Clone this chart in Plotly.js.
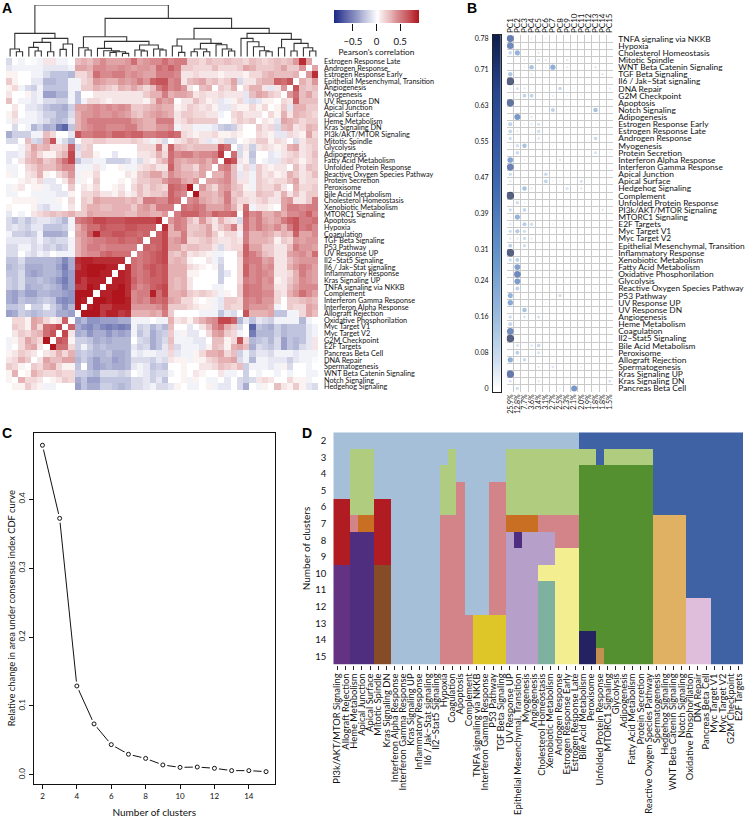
<!DOCTYPE html>
<html><head><meta charset="utf-8">
<script src="https://cdn.plot.ly/plotly-3.0.1.min.js"></script>
<style>html,body{margin:0;padding:0;background:#fff}</style></head>
<body><div id="chart" style="width:745px;height:818px"></div>
<script>
// ---------- Panel A data ----------
const rowsA = ["Estrogen Response Late","Androgen Response","Estrogen Response Early","Epithelial Mesenchymal, Transition","Angiogenesis","Myogenesis","UV Response DN","Apical Junction","Apical Surface","Heme Metabolism","Kras Signaling DN","PI3k/AKT/MTOR Signaling","Mitotic Spindle","Glycolysis","Adipogenesis","Fatty Acid Metabolism","Unfolded Protein Response","Reactive Oxygen Species Pathway","Protein Secretion","Peroxisome","Bile Acid Metabolism","Cholesterol Homeostasis","Xenobiotic Metabolism","MTORC1 Signaling","Apoptosis","Hypoxia","Coagulation","TGF Beta Signaling","P53 Pathway","UV Response UP","Il2−Stat5 Signaling","Il6 / Jak−Stat signaling","Inflammatory Response","Kras Signaling UP","TNFA signaling via NKKB","Complement","Interferon Gamma Response","Interferon Alpha Response","Allograft Rejection","Oxidative Phosphorilation","Myc Target V1","Myc Target V2","G2M Checkpoint","E2F Targets","Pancreas Beta Cell","DNA Repair","Spermatogenesis","WNT Beta Catenin Signaling","Notch Signaling","Hedgehog Signaling"];
// Pearson correlation x100, one side of the symmetric matrix (columns run in reverse row order)
const corrUpper = [
[-15,0,-5,0,-2,-5,10,10,-5,-5,0,25,30,25,35,45,35,35,35,40,55,35,40,45,45,55,45,50,50,20,20,15,25,20,20,25,20,20,15,25,20,15,20,25,20,25,40,80,35],
[-10,-5,-5,-5,-5,-5,-10,-10,-10,-10,-5,35,35,30,45,45,40,40,45,40,35,40,40,35,55,50,60,50,20,20,15,15,15,25,15,15,15,20,35,30,20,20,20,25,35,20,20,40],
[5,5,0,0,-5,-5,-15,-25,-25,-25,-30,15,15,25,55,45,45,50,50,40,45,40,35,35,50,50,50,45,10,10,15,10,10,10,5,10,10,10,5,15,15,25,30,25,25,25,30],
[20,5,0,0,-10,-10,-30,-30,-25,-25,-5,-5,15,20,40,35,30,30,40,35,40,50,40,60,65,65,45,50,10,25,30,35,20,25,15,20,35,-15,10,10,25,30,30,60,55,65],
[5,15,-5,-15,-20,-5,-25,-25,-25,-25,-5,-5,20,20,30,25,20,15,30,25,35,25,15,25,50,60,45,50,40,10,0,25,30,0,20,15,30,0,15,30,30,10,-10,10,40],
[10,0,0,5,-10,-5,-40,-40,-30,-30,-5,-25,0,0,10,10,10,10,10,10,10,10,20,30,30,50,30,35,35,30,10,15,10,10,15,10,10,10,-10,25,35,30,20,15],
[25,0,-5,-5,-10,-5,-15,-15,-20,-20,-5,-25,-5,15,15,10,5,10,10,10,10,10,5,20,45,35,40,0,10,10,25,15,5,10,-10,-5,5,15,-10,-15,-10,5,5],
[0,10,0,-10,-10,-15,-25,-30,-30,-35,-20,35,35,40,45,40,45,40,45,40,20,20,25,30,35,30,30,5,10,20,15,10,15,5,-10,-10,10,5,5,15,5,15],
[5,15,0,-5,-5,-10,-20,-20,-30,-30,-15,30,40,40,45,40,40,45,40,35,25,20,30,35,40,35,30,10,20,20,15,15,10,10,-5,0,15,20,10,10,10],
[-5,10,-5,-5,-5,-10,-15,-25,-30,-25,-10,30,40,50,50,50,50,50,50,50,40,35,30,30,50,50,50,10,15,25,20,20,20,20,0,0,10,20,15,20],
[0,-15,0,-5,-30,-20,-35,-30,-55,-65,-25,30,40,45,50,50,45,45,45,50,50,35,30,30,40,40,45,-5,10,10,-5,-5,-5,-10,-20,-25,-20,10,0],
[-35,-20,-20,-20,-5,-5,25,15,0,0,-10,65,50,50,55,55,50,60,60,55,60,60,50,50,55,55,60,55,15,10,5,10,10,15,5,5,10,5],
[-15,-15,0,25,-15,-20,35,65,-5,-15,-30,0,15,15,20,20,15,15,15,15,20,15,10,-5,10,-15,0,10,15,25,20,10,-10,-5,10,-15,-15],
[0,0,-5,15,35,25,30,15,15,20,60,-15,15,20,0,0,0,0,0,0,0,15,15,15,50,10,60,30,25,20,25,25,25,25,65,55],
[-10,-10,-5,20,30,15,5,5,20,30,70,-10,20,20,5,0,0,-10,0,0,0,10,10,15,30,15,55,45,50,50,40,45,45,50,75],
[-10,0,10,25,30,35,20,25,40,55,70,-25,-10,-10,-5,-5,-20,-20,-20,-15,-5,-15,10,5,20,30,55,35,30,35,35,40,30,45],
[-5,-5,0,15,20,30,25,25,35,45,45,-5,-5,-5,10,-5,0,0,5,-5,-5,10,15,20,10,10,60,35,25,25,15,35,30],
[5,-5,0,10,15,30,5,0,15,25,40,-5,5,5,15,0,0,0,0,10,5,20,25,35,35,20,45,35,30,30,25,35],
[0,0,5,10,5,15,-10,-10,0,10,30,-5,5,0,20,0,0,0,5,0,10,20,20,25,25,40,50,50,35,30,40],
[-5,5,10,0,5,5,-5,-10,-10,0,20,0,10,5,15,0,0,5,10,0,15,25,15,25,20,15,60,55,50,90],
[-5,-5,0,0,-5,-5,-5,-5,-10,-10,5,0,15,15,20,10,10,5,15,5,10,25,15,20,20,25,60,50,45],
[0,5,5,5,5,-5,-5,-5,5,0,15,0,20,15,35,30,30,30,30,25,30,20,50,50,45,45,60,55],
[5,0,0,0,5,-10,-15,-5,-5,0,10,0,20,30,30,25,25,30,30,30,20,35,40,30,50,50,50],
[-10,0,-5,0,10,15,20,25,20,25,30,20,20,35,30,30,30,30,30,25,25,35,35,30,30,40],
[-15,-25,-15,-25,-15,-10,-10,-15,-20,-30,-5,50,55,60,70,70,65,65,65,70,70,70,70,70,80],
[-15,-10,-15,-20,-10,-10,-25,-25,-25,-20,-5,30,45,55,55,65,60,60,60,65,65,60,60,60],
[-5,-20,-20,-25,-20,-5,-35,-35,-35,-30,0,35,40,60,85,60,60,65,65,60,60,55,60],
[-10,-10,-10,-10,-15,-5,-15,-20,-15,-15,-5,30,40,45,50,50,55,55,60,55,55,60],
[-15,-15,-5,-5,-15,-10,-20,-15,-25,-20,-5,30,40,50,50,45,50,50,50,50,50],
[-15,-15,0,-10,-15,-5,-10,0,-5,-5,-5,30,40,45,45,55,60,55,55,55],
[-25,-25,-15,-30,-30,-30,-30,-30,-35,-50,-35,80,85,85,80,80,80,80,80],
[-30,-25,-20,-35,-35,-35,-30,-30,-40,-55,-35,75,85,90,90,90,85,85],
[-25,-25,-15,-35,-40,-35,-30,-30,-35,-50,-40,85,85,90,90,85,85],
[-20,-25,-15,-30,-30,-25,-30,-35,-45,-55,-40,85,75,85,85,85],
[-20,-25,-15,-35,-30,-30,-25,-30,-35,-50,-40,75,75,90,85],
[-35,-40,-30,-40,-40,-30,-30,-35,-35,-40,-45,90,90,90],
[-35,-40,-25,-30,-30,-25,-20,-25,-45,-50,-45,90,85],
[-25,-25,-20,0,-20,-20,-5,-20,-30,-45,-30,90],
[-40,-35,-20,-25,-30,-25,-20,-20,-35,-35,-40],
[0,15,15,5,35,30,15,5,10,60],
[0,20,15,5,35,15,55,60,70],
[0,10,20,15,25,30,55,65],
[-5,5,15,35,25,15,90],
[-5,0,15,30,35,10],
[5,10,20,15,10],
[10,15,30,20],
[20,15,5],
[5,30],
[5]
];
// Dendrogram as nested [height, left, right]; 0 marks a leaf
const L = 0;
const dendroTree = [155,
 [70,[23,L,[15,L,L]],[55,[43,[28,L,[17,L,L]],[15,L,L]],[38,[22,L,L],L]]],
 [115,
  [60,[27,L,[20,L,L]],[46,[25,L,[18,L,[15,[13,L,L],[10,L,L]]]],[35,[20,L,[17,L,L]],[23,L,[20,L,L]]]]],
  [85,
   [53,[32,L,[13,L,L]],[40,[23,[15,L,L],[15,L,L]],[36,L,[23,L,[17,L,L]]]]],
   [70,[55,L,[45,L,[30,L,[18,L,[15,L,L]]]]],[52,[27,L,L],[40,[17,L,L],[27,L,[17,L,L]]]]]
  ]
 ]
];
const corrTicks = [-0.5,0,0.5];
const corrTickText = ["−0.5","0","0.5"];
const corrLevels = [-0.9,-0.8,-0.7,-0.6,-0.5,-0.4,-0.3,-0.2,-0.1,0,0.1,0.2,0.3,0.4,0.5,0.6,0.7,0.8,0.9];

// ---------- Panel B data ----------
const pcLabels = ["PC1","PC2","PC3","PC4","PC5","PC6","PC7","PC8","PC9","PC10","PC11","PC12","PC13","PC14","PC15"];
const pcVariance = ["25.9%","12.8%","7.7%","3.6%","3.4%","3.1%","2.7%","2.5%","2.3%","2.1%","2.0%","1.9%","1.8%","1.8%","1.5%"];
const rowsB = ["TNFA signaling via NKKB","Hypoxia","Cholesterol Homeostasis","Mitotic Spindle","WNT Beta Catenin Signaling","TGF Beta Signaling","Il6 / Jak−Stat signaling","DNA Repair","G2M Checkpoint","Apoptosis","Notch Signaling","Adipogenesis","Estrogen Response Early","Estrogen Response Late","Androgen Response","Myogenesis","Protein Secretion","Interferon Alpha Response","Interferon Gamma Response","Apical Junction","Apical Surface","Hedgehog Signaling","Complement","Unfolded Protein Response","PI3k/AKT/MTOR Signaling","MTORC1 Signaling","E2F Targets","Myc Target V1","Myc Target V2","Epithelial Mesenchymal, Transition","Inflammatory Response","Xenobiotic Metabolism","Fatty Acid Metabolism","Oxidative Phosphorilation","Glycolysis","Reactive Oxygen Species Pathway","P53 Pathway","UV Response UP","UV Response DN","Angiogenesis","Heme Metabolism","Coagulation","Il2−Stat5 Signaling","Bile Acid Metabolism","Peroxisome","Allograft Rejection","Spermatogenesis","Kras Signaling UP","Kras Signaling DN","Pancreas Beta Cell"];
const pcLoad = [
[.65,.01,0,.04,0,.03,.01,0,0,0,0,0,0,0,0],
[.55,.01,0,0,.01,0,.01,0,0,0,0,0,0,0,0],
[.12,.3,.02,0,.05,0,0,0,0,0,0,0,0,0,0],
[0,.01,.04,.03,.06,.05,.01,0,.05,0,.03,0,0,0,0],
[.01,0,.03,.22,.01,.03,.32,0,.04,0,0,0,.05,0,0],
[.2,0,0,.04,0,0,0,0,0,0,0,0,0,.05,0],
[.78,.01,.01,.01,0,0,0,0,0,0,0,0,0,0,0],
[.04,.08,.04,0,0,0,0,.12,.01,.02,0,0,0,0,.04],
[.02,.02,.14,.14,.01,.01,.04,0,.03,0,.03,0,0,0,0],
[.7,.01,0,0,0,0,0,0,.01,0,0,0,0,0,0],
[.01,.01,.03,.01,0,0,.15,0,.02,.03,0,.02,.22,0,0],
[.02,.45,.01,.05,0,0,0,0,0,0,0,0,0,0,0],
[.15,0,.03,.04,.08,0,0,0,.01,0,0,0,.02,0,0],
[.13,.04,0,.02,.1,0,0,0,0,0,0,0,.02,0,0],
[.1,.01,0,0,.06,0,0,0,.01,0,.01,.01,.12,0,0],
[.03,.1,.22,.01,.01,0,.03,0,0,0,0,0,0,0,.02],
[0,.12,.01,0,0,0,0,0,0,0,0,0,.08,0,.03],
[.38,0,.03,0,0,0,0,.05,0,0,.01,0,0,0,0],
[.62,0,.02,0,0,0,0,0,0,0,0,0,0,0,0],
[.1,0,.02,0,0,.12,0,0,.01,0,0,0,0,.02,.01],
[.05,0,.03,0,0,.14,.03,.03,0,0,.08,.01,0,0,0],
[.01,0,.22,.04,0,0,.01,0,.08,0,.05,0,0,0,0],
[.78,.01,0,0,0,0,0,0,0,0,0,0,0,0,0],
[0,.1,.03,.03,0,0,0,0,.01,.02,0,0,0,0,0],
[.1,0,.13,0,0,.02,0,0,0,0,0,0,0,.05,.01],
[.03,.3,.02,0,.01,0,0,0,0,0,0,.02,0,0,0],
[.05,.01,.17,.1,0,0,.03,.02,.02,0,0,0,0,0,0],
[.1,.18,.1,0,.01,0,0,0,0,0,0,0,0,0,0],
[.05,.05,.1,.04,0,0,0,0,0,0,.03,0,0,0,0],
[.15,.01,.1,0,.02,0,0,0,0,0,0,0,0,0,0],
[.78,.01,.01,0,0,0,0,0,0,0,0,0,0,0,0],
[.1,.15,0,0,0,0,0,0,0,0,0,0,0,0,0],
[.01,.4,.02,.02,0,0,0,0,0,0,0,0,0,0,0],
[.02,.55,.01,0,0,0,0,0,0,0,0,0,0,0,0],
[.02,.42,0,0,0,0,.01,0,0,0,0,0,0,0,0],
[0,.15,0,0,0,0,0,.02,0,.01,0,0,.03,0,0],
[.3,0,0,0,0,.01,0,.1,0,0,0,0,0,0,0],
[.35,0,0,.01,0,.02,0,0,0,0,0,0,0,0,0],
[0,0,.22,0,0,0,0,0,0,0,.01,0,0,0,0],
[.1,0,.07,0,.08,.02,0,0,0,0,0,0,0,0,0],
[.14,0,.02,0,0,0,0,0,0,0,0,.01,0,0,0],
[.55,.02,0,0,0,0,0,.01,0,0,0,0,0,0,0],
[.78,0,.01,0,0,0,0,0,0,0,0,0,0,0,0],
[0,.07,0,.06,.12,0,0,0,0,0,0,0,0,0,0],
[0,.15,0,.02,.08,0,0,0,0,0,0,0,0,0,0],
[.33,.03,.12,0,0,.01,0,0,0,0,0,0,0,0,0],
[0,.01,.01,.01,.05,0,.06,0,0,.01,.03,0,0,0,0],
[.68,.01,0,0,0,0,0,0,0,0,0,0,0,0,0],
[.07,0,0,0,.05,0,0,0,0,0,0,0,0,0,.07],
[.01,.1,0,0,.01,0,0,.03,0,.45,0,0,.02,0,0]
];
const loadTicks = [0,.08,.16,.24,.31,.39,.47,.55,.63,.71,.78];
const loadTickText = ["0","0.08","0.16","0.24","0.31","0.39","0.47","0.55","0.63","0.71","0.78"];
const loadLevels = [0,.04,.08,.12,.16,.2,.24,.28,.31,.35,.39,.43,.47,.51,.55,.59,.63,.67,.71,.75,.78];

// ---------- Panel C data ----------
const clusterCounts = [2,3,4,5,6,7,8,9,10,11,12,13,14,15];
const cdfDelta = [.478,.372,.129,.074,.044,.030,.024,.0145,.011,.0115,.0097,.0063,.0063,.0048];

// ---------- Panel D data ----------
const columnsD = ["PI3k/AKT/MTOR Signaling","Allograft Rejection","Heme Metabolism","Apical Junction","Apical Surface","Mitotic Spindle","Kras Signaling DN","Interferon Alpha Response","Interferon Gamma Response","Kras Signaling UP","Inflammatory Response","Il6 / Jak−Stat signaling","Il2−Stat5 Signaling","Hypoxia","Coagulation","Apoptosis","Complement","TNFA signaling via NKKB","Interferon Gamma Response","P53 Pathway","TGF Beta Signaling","UV Response UP","Epithelial Mesenchymal, Transition","Myogenesis","Angiogenesis","Cholesterol Homeostasis","Xenobiotic Metabolism","Androgen Response","Estrogen Response Early","Estrogen Response Late","Bile Acid Metabolism","Peroxisome","Unfolded Protein Response","MTORC1 Signaling","Glycolysis","Adipogenesis","Fatty Acid Metabolism","Protein Secretion","Reactive Oxygen Species Pathway","Spermatogenesis","Hedgehog Signaling","WNT Beta Catenin Signaling","Notch Signaling","Oxidative Phosphorilation","DNA Repair","Pancreas Beta Cell","Myc Target V1","Myc Target V2","G2M Checkpoint","E2F Targets"];
const clusterIds = "abcdefghijklmnopqr";
const clusterColors = ["#a6bfd9","#3f62a4","#b0cc7e","#549030","#d38489","#b01c22","#e0b162","#c86f24","#b6a0ca","#4f2d7f","#f3ef90","#854c27","#7fb1a0","#dfc628","#242260","#c49050","#dfbedc","#633282"];
// For each number of clusters: runs of [end column, cluster id]
const clusterRuns = [
[[30,'a'],[50,'b']],
[[2,'a'],[5,'c'],[14,'a'],[15,'c'],[21,'a'],[32,'c'],[33,'b'],[39,'c'],[50,'b']],
[[2,'a'],[5,'c'],[13,'a'],[15,'c'],[21,'a'],[30,'c'],[39,'d'],[50,'b']],
[[2,'a'],[5,'c'],[13,'a'],[15,'c'],[16,'e'],[19,'a'],[21,'e'],[30,'c'],[39,'d'],[50,'b']],
[[2,'f'],[5,'c'],[7,'f'],[13,'a'],[15,'c'],[16,'e'],[19,'a'],[21,'e'],[30,'c'],[39,'d'],[50,'b']],
[[2,'f'],[3,'e'],[5,'h'],[7,'f'],[13,'a'],[16,'e'],[19,'a'],[21,'e'],[25,'h'],[30,'e'],[39,'d'],[43,'g'],[50,'b']],
[[2,'f'],[5,'j'],[7,'f'],[13,'a'],[16,'e'],[19,'a'],[21,'e'],[22,'i'],[23,'j'],[27,'i'],[30,'e'],[39,'d'],[43,'g'],[50,'b']],
[[2,'f'],[5,'j'],[7,'f'],[13,'a'],[16,'e'],[19,'a'],[21,'e'],[27,'i'],[30,'k'],[39,'d'],[43,'g'],[50,'b']],
[[2,'r'],[5,'j'],[7,'l'],[13,'a'],[16,'e'],[19,'a'],[21,'e'],[25,'i'],[30,'k'],[39,'d'],[43,'g'],[50,'b']],
[[2,'r'],[5,'j'],[7,'l'],[13,'a'],[16,'e'],[19,'a'],[21,'e'],[25,'i'],[27,'m'],[30,'k'],[39,'d'],[43,'g'],[50,'b']],
[[2,'r'],[5,'j'],[7,'l'],[13,'a'],[16,'e'],[19,'a'],[21,'e'],[25,'i'],[27,'m'],[30,'k'],[39,'d'],[43,'g'],[46,'q'],[50,'b']],
[[2,'r'],[5,'j'],[7,'l'],[13,'a'],[17,'e'],[21,'n'],[25,'i'],[27,'m'],[30,'k'],[39,'d'],[43,'g'],[46,'q'],[50,'b']],
[[2,'r'],[5,'j'],[7,'l'],[13,'a'],[17,'e'],[21,'n'],[25,'i'],[27,'m'],[30,'k'],[32,'o'],[39,'d'],[43,'g'],[46,'q'],[50,'b']],
[[2,'r'],[5,'j'],[7,'l'],[13,'a'],[17,'e'],[21,'n'],[25,'i'],[27,'m'],[30,'k'],[32,'o'],[33,'p'],[39,'d'],[43,'g'],[46,'q'],[50,'b']]
];

// ---------- build ----------
const W = 745, H = 818;
const FONT = "Lato, 'Open Sans', sans-serif";
const dx = (a,b)=>[a/W,b/W];
const dy = (a,b)=>[1-b/H,1-a/H];
const seq = n => Array.from({length:n},(_,i)=>i);

// correlation matrix: mirror the stored triangle; the diagonal stays empty
const corr = seq(50).map(()=>seq(50).map(()=>null));
corrUpper.forEach((row,r)=>row.forEach((v,c)=>{ corr[r][c]=v/100; corr[49-c][49-r]=v/100; }));

// dendrogram segments from the tree
const dX=[], dY=[]; let leaf=0;
function walk(n){
  if(n===0){ return {x:leaf++, h:0}; }
  const a=walk(n[1]), b=walk(n[2]);
  dX.push(a.x,a.x,b.x,b.x,null); dY.push(a.h,n[0],n[0],b.h,null);
  return {x:(a.x+b.x)/2, h:n[0]};
}
walk(dendroTree);

const corrScale=[[0,'#1e2a88'],[0.5,'#ffffff'],[1,'#b0141c']];
const loadScale=[[0,'#ffffff'],[.08,'#cfdff1'],[.2,'#9dbde0'],[.4,'#6090c8'],[.6,'#3c66ae'],[.85,'#27458f'],[1,'#10204f']];

// dot matrix
const ptX=[],ptY=[],ptV=[];
pcLoad.forEach((row,r)=>row.forEach((v,c)=>{ if(v>0){ptX.push(c);ptY.push(r);ptV.push(v);} }));

// cluster map
const clusterZ = clusterRuns.map(runs=>{
  const out=[]; let s=0;
  runs.forEach(([e,id])=>{ for(let i=s;i<e;i++) out.push(clusterIds.indexOf(id)); s=e; });
  return out;
});
const nC=clusterColors.length;
const clusterScale=[];
clusterColors.forEach((c,i)=>{ clusterScale.push([i/nC,c]); clusterScale.push([(i+1)/nC,c]); });

const edges15 = seq(16).map(i=>i-0.5), edges50 = seq(51).map(i=>i-0.5);
const gridCol='#c9c9c9';

const traces=[
 {type:'heatmap',x:seq(50),y:seq(50),z:corr,zmin:-0.9,zmax:0.9,colorscale:corrScale,showscale:false,hoverongaps:false,xaxis:'x',yaxis:'y'},
 {type:'scatter',mode:'lines',x:dX,y:dY,line:{color:'#333',width:1.1},xaxis:'x2',yaxis:'y2',hoverinfo:'skip',showlegend:false},
 {type:'heatmap',x:corrLevels,y:[0],z:[corrLevels],zmin:-0.9,zmax:0.9,zsmooth:'best',colorscale:corrScale,showscale:false,xaxis:'x3',yaxis:'y3'},
 {type:'scatter',mode:'markers',x:ptX,y:ptY,marker:{size:ptV.map(v=>1+6.6*Math.sqrt(v/0.78)),color:ptV,cmin:0,cmax:0.78,colorscale:loadScale,line:{width:0}},xaxis:'x4',yaxis:'y4',showlegend:false},
 {type:'scatter',mode:'markers',x:seq(15),y:seq(15).map(()=>0),marker:{opacity:0,size:1},xaxis:'x5',yaxis:'y4',hoverinfo:'skip',showlegend:false},
 {type:'heatmap',x:[0,1],y:loadLevels,z:loadLevels.map(v=>[v,v]),zmin:0,zmax:0.78,zsmooth:'best',colorscale:loadScale,showscale:false,xaxis:'x6',yaxis:'y6'},
 {type:'scatter',mode:'lines',x:clusterCounts,y:cdfDelta,line:{color:'#111',width:1},xaxis:'x7',yaxis:'y7',hoverinfo:'skip',showlegend:false},
 {type:'scatter',mode:'markers',x:clusterCounts,y:cdfDelta,marker:{color:'#fff',size:9,line:{width:0}},xaxis:'x7',yaxis:'y7',hoverinfo:'skip',showlegend:false},
 {type:'scatter',mode:'markers',x:clusterCounts,y:cdfDelta,marker:{symbol:'circle-open',color:'#111',size:4,line:{width:1,color:'#111'}},xaxis:'x7',yaxis:'y7',showlegend:false},
 {type:'heatmap',x:seq(50),y:clusterCounts,z:clusterZ,zmin:0,zmax:nC,colorscale:clusterScale,showscale:false,xaxis:'x8',yaxis:'y8'}
];

const tf = s=>({family:FONT,size:s,color:'#111'});
const layout={
 width:W,height:H,margin:{l:0,r:0,t:0,b:0},paper_bgcolor:'#fff',plot_bgcolor:'rgba(0,0,0,0)',showlegend:false,font:{family:FONT,color:'#111'},
 // A
 xaxis:{domain:dx(6,318),range:[-0.5,49.5],visible:false,anchor:'y'},
 yaxis:{domain:dy(58,390),range:[49.5,-0.5],side:'right',anchor:'x',tickmode:'array',tickvals:seq(50),ticktext:rowsA,tickfont:tf(7.3),ticks:'',ticklabelstandoff:5,showgrid:false,zeroline:false,showline:false},
 xaxis2:{domain:dx(7,319),range:[-0.5,49.5],visible:false,anchor:'y2'},
 yaxis2:{domain:dy(5,56.7),range:[0,155],visible:false,anchor:'x2'},
 xaxis3:{domain:dx(334,419),range:[-0.9,0.9],anchor:'y3',tickmode:'array',tickvals:corrTicks,ticktext:corrTickText,ticks:'outside',ticklen:7,tickcolor:'#111',tickwidth:1,tickfont:tf(9.6),ticklabelstandoff:2,showgrid:false,zeroline:false,showline:false,title:{text:"Pearson's correlation",font:tf(8.3),standoff:3}},
 yaxis3:{domain:dy(10,23),range:[-0.5,0.5],visible:false,anchor:'x3'},
 // B
 xaxis4:{domain:dx(506.7,613.3),range:[-0.5,14.5],side:'top',anchor:'y4',tickmode:'array',tickvals:seq(15),ticktext:pcLabels,tickangle:-90,tickfont:tf(8),ticks:'',ticklabelstandoff:1,showgrid:false,zeroline:false,showline:false,minor:{tickmode:'array',tickvals:edges15,showgrid:true,gridcolor:gridCol,gridwidth:1,ticks:''}},
 yaxis4:{domain:dy(35,392),range:[49.5,-0.5],side:'right',anchor:'x4',tickmode:'array',tickvals:seq(50),ticktext:rowsB,tickfont:tf(8.4),ticks:'',ticklabelstandoff:4,showgrid:false,zeroline:false,showline:false,minor:{tickmode:'array',tickvals:edges50,showgrid:true,gridcolor:gridCol,gridwidth:1,ticks:''}},
 xaxis5:{domain:dx(506.7,613.3),range:[-0.5,14.5],side:'bottom',anchor:'y4',overlaying:'x4',tickmode:'array',tickvals:seq(15),ticktext:pcVariance,tickangle:-90,tickfont:tf(7),ticks:'',showgrid:false,zeroline:false,showline:false},
 xaxis6:{domain:dx(493,500.7),range:[0,1],anchor:'y6',visible:true,showticklabels:false,ticks:'',showgrid:false,zeroline:false,showline:true,linecolor:'#222',linewidth:1,mirror:true},
 yaxis6:{domain:dy(35,392),range:[-0.007,0.787],anchor:'x6',side:'left',tickmode:'array',tickvals:loadTicks,ticktext:loadTickText,tickfont:tf(7),ticks:'',ticklabelstandoff:2,showgrid:false,zeroline:false,showline:true,linecolor:'#222',linewidth:1,mirror:true},
 // C
 xaxis7:{domain:dx(33.5,275),range:[1.48,15.52],anchor:'y7',tickmode:'array',tickvals:[2,4,6,8,10,12,14],tickfont:tf(8),ticks:'outside',ticklen:4,tickcolor:'#111',showgrid:false,zeroline:false,showline:true,linecolor:'#111',linewidth:1,mirror:true,title:{text:'Number of clusters',font:tf(10),standoff:10}},
 yaxis7:{domain:dy(432.5,784),range:[-0.0131,0.4965],anchor:'x7',tickmode:'array',tickvals:[0,.1,.2,.3,.4],ticktext:['0.0','0.1','0.2','0.3','0.4'],tickangle:-90,tickfont:tf(8),ticks:'outside',ticklen:4,tickcolor:'#111',showgrid:false,zeroline:false,showline:true,linecolor:'#111',linewidth:1,mirror:true,title:{text:'Relative change in area under consensus index CDF curve',font:tf(9.4),standoff:0}},
 // D
 xaxis8:{domain:dx(333.3,743),range:[-0.5,49.5],anchor:'y8',tickmode:'array',tickvals:seq(50),ticktext:columnsD,tickangle:-90,tickfont:tf(9.4),ticks:'outside',ticklen:4,tickcolor:'#222',showgrid:false,zeroline:false,showline:false},
 yaxis8:{domain:dy(432.3,664.7),range:[15.5,1.5],anchor:'x8',tickmode:'array',tickvals:clusterCounts,tickfont:tf(9.5),ticks:'',ticklabelstandoff:6,showgrid:false,zeroline:false,showline:false,title:{text:'Number of clusters',font:tf(10),standoff:2}},
 annotations:[["A",0,8],["B",465,8],["C",0,433],["D",300,433]].map(([t,x,y])=>({text:'<b>'+t+'</b>',x:x/W,y:1-y/H,xref:'paper',yref:'paper',xanchor:'left',yanchor:'middle',showarrow:false,font:{family:"'Liberation Sans',sans-serif",size:14,color:'#000'}}))
};
Plotly.newPlot('chart',traces,layout,{staticPlot:true,displayModeBar:false});
</script></body></html>
